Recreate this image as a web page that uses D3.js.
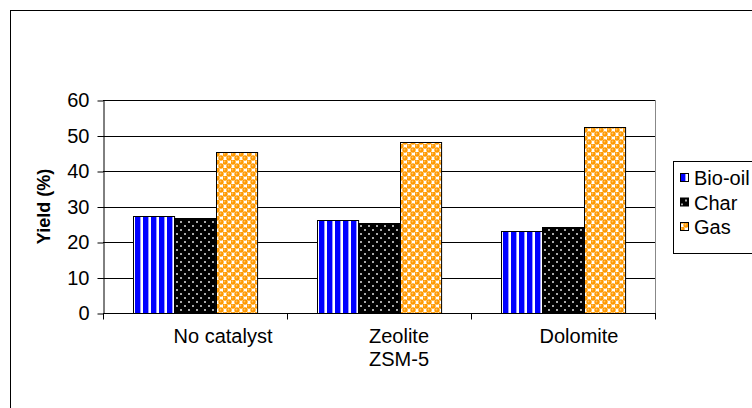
<!DOCTYPE html>
<html>
<head>
<meta charset="utf-8">
<script src="https://cdn.jsdelivr.net/npm/d3@7"></script>
<style>
  body { margin: 0; background: #fff; }
  text { font-family: "Liberation Sans", Arial, sans-serif; fill: #000; }
</style>
</head>
<body>
<div id="chart"></div>
<script>
var categories = ["No catalyst", "Zeolite ZSM-5", "Dolomite"];
var catLines = [["No catalyst"], ["Zeolite", "ZSM-5"], ["Dolomite"]];
var series = ["Bio-oil", "Char", "Gas"];
var bioOil = [27.4, 26.2, 23.2];
var charY = [26.8, 25.4, 24.2];
var gas = [45.4, 48.3, 52.4];
var yTicks = [0, 10, 20, 30, 40, 50, 60];
var labelShift = [28, 20, 16]; // excel's label placement is off-centre

var width = 752, height = 408;
var plot = {left: 103, right: 655, top: 100, bottom: 313};

var svg = d3.select("#chart").append("svg")
    .attr("width", width)
    .attr("height", height);

// patterns
var defs = svg.append("defs");

var pBlue = defs.append("pattern").attr("id", "p0")
    .attr("patternUnits", "userSpaceOnUse")
    .attr("width", 8).attr("height", 8);
pBlue.append("rect").attr("width", 8).attr("height", 8).attr("fill", "#fff");
pBlue.append("rect").attr("x", 0).attr("width", 5).attr("height", 8).attr("fill", "#0000ff");
pBlue.append("rect").attr("x", 5).attr("width", 1).attr("height", 8).attr("fill", "#9999ff");

var pBlack = defs.append("pattern").attr("id", "p1")
    .attr("patternUnits", "userSpaceOnUse")
    .attr("width", 8).attr("height", 8);
pBlack.append("rect").attr("width", 8).attr("height", 8).attr("fill", "#000");
pBlack.append("rect").attr("x", 1).attr("y", 1).attr("width", 2).attr("height", 2).attr("fill", "#aaa");
pBlack.append("rect").attr("x", 5).attr("y", 5).attr("width", 2).attr("height", 2).attr("fill", "#aaa");

var pOrange = defs.append("pattern").attr("id", "p2")
    .attr("patternUnits", "userSpaceOnUse")
    .attr("width", 8).attr("height", 8);
pOrange.append("rect").attr("width", 8).attr("height", 8).attr("fill", "#fff");
[[2, 2], [6, 6], [-2, 6], [6, -2], [10, 6], [6, 10], [-2, -2], [10, 10], [10, -2], [-2, 10]].forEach(function(c) {
    pOrange.append("circle").attr("cx", c[0]).attr("cy", c[1]).attr("r", 2.7).attr("fill", "#ff9900");
});
pOrange.append("circle").attr("cx", 1.5).attr("cy", 1.5).attr("r", 0.9).attr("fill", "#ffc266");
pOrange.append("circle").attr("cx", 5.5).attr("cy", 5.5).attr("r", 0.9).attr("fill", "#ffc266");

// outer chart border (runs off the right and bottom edge)
svg.append("rect")
    .attr("x", 10.5).attr("y", 10.5)
    .attr("width", 900).attr("height", 600)
    .attr("fill", "none").attr("stroke", "#000");

var x0 = d3.scaleBand()
    .domain(categories)
    .range([plot.left, plot.right])
    .padding(0);

var gap = x0.bandwidth() * 0.165;
var x1 = d3.scaleBand()
    .domain(series)
    .range([gap, x0.bandwidth() - gap]);

var y = d3.scaleLinear()
    .domain([0, 60])
    .range([plot.bottom, plot.top]);

// gridlines
svg.append("g").selectAll("line")
    .data(yTicks.slice(1))
    .enter().append("line")
    .attr("x1", plot.left).attr("x2", plot.right)
    .attr("y1", function(d) { return Math.round(y(d)) + 0.5; })
    .attr("y2", function(d) { return Math.round(y(d)) + 0.5; })
    .attr("stroke", "#000");

// plot area border (right side)
svg.append("line")
    .attr("x1", plot.right + 0.5).attr("x2", plot.right + 0.5)
    .attr("y1", plot.top).attr("y2", plot.bottom)
    .attr("stroke", "#888");

var table = categories.map(function(c, i) {
    return {cat: c, vals: [bioOil[i], charY[i], gas[i]]};
});

var groups = svg.append("g").selectAll("g")
    .data(table)
    .enter().append("g")
    .attr("transform", function(d) { return "translate(" + x0(d.cat) + ",0)"; });

groups.selectAll("rect")
    .data(function(d) { return d.vals.map(function(v, j) { return {s: series[j], v: v, j: j}; }); })
    .enter().append("rect")
    .attr("x", function(d) { return Math.round(x1(d.s)) + 0.5; })
    .attr("width", x1.bandwidth())
    .attr("y", function(d) { return Math.round(y(d.v)) + 0.5; })
    .attr("height", function(d) { return Math.round(plot.bottom - y(d.v)); })
    .attr("fill", function(d) { return "url(#p" + d.j + ")"; })
    .attr("stroke", "#000")
    .attr("stroke-width", 1);

// y axis
var yAxis = svg.append("g")
    .attr("transform", "translate(" + (plot.left + 0.5) + ",0.5)")
    .call(d3.axisLeft(y).tickValues(yTicks).tickSize(6).tickPadding(8).tickSizeOuter(0));
yAxis.select(".domain").attr("stroke", "#000");
yAxis.selectAll("line").attr("stroke", "#000");
yAxis.selectAll("text")
    .style("font-family", "Liberation Sans, Arial, sans-serif")
    .style("font-size", "20px")
    .attr("fill", "#000");

// x axis
var xAxis = svg.append("g")
    .attr("transform", "translate(0," + (plot.bottom + 0.5) + ")");
xAxis.append("line")
    .attr("x1", plot.left).attr("x2", plot.right + 1)
    .attr("stroke", "#000");
xAxis.selectAll(".tk")
    .data(categories.concat(["end"]))
    .enter().append("line")
    .attr("class", "tk")
    .attr("x1", function(d, i) { return plot.left + i * x0.step() + 0.5; })
    .attr("x2", function(d, i) { return plot.left + i * x0.step() + 0.5; })
    .attr("y1", 0).attr("y2", 6)
    .attr("stroke", "#000");

var labels = svg.append("g").selectAll("text")
    .data(categories)
    .enter().append("text")
    .attr("text-anchor", "middle")
    .attr("x", function(d, i) { return x0(d) + x0.bandwidth() / 2 + labelShift[i]; })
    .attr("y", 343)
    .style("font-size", "20px");
labels.each(function(d, i) {
    var t = d3.select(this);
    catLines[i].forEach(function(line, k) {
        t.append("tspan")
            .attr("x", x0(d) + x0.bandwidth() / 2 + labelShift[i])
            .attr("dy", k === 0 ? 0 : 23)
            .text(line);
    });
});

// y title
svg.append("text")
    .attr("transform", "translate(50," + ((plot.top + plot.bottom) / 2) + ") rotate(-90)")
    .attr("text-anchor", "middle")
    .style("font-size", "18px")
    .style("font-weight", "bold")
    .text("Yield (%)");

// legend
var legend = svg.append("g");
legend.append("rect")
    .attr("x", 673.5).attr("y", 161.5)
    .attr("width", 120).attr("height", 92)
    .attr("fill", "#fff").attr("stroke", "#000");

var items = legend.selectAll("g.item")
    .data(series)
    .enter().append("g")
    .attr("class", "item")
    .attr("transform", function(d, i) { return "translate(0," + (178 + i * 24.5) + ")"; });
items.append("rect")
    .attr("x", 680.5).attr("y", -4.5)
    .attr("width", 8).attr("height", 8)
    .attr("fill", function(d, i) { return "url(#p" + i + ")"; })
    .attr("stroke", "#000");
items.append("text")
    .attr("x", 694)
    .attr("y", 0)
    .attr("dy", "0.35em")
    .style("font-size", "20px")
    .text(function(d) { return d; });
</script>
</body>
</html>
